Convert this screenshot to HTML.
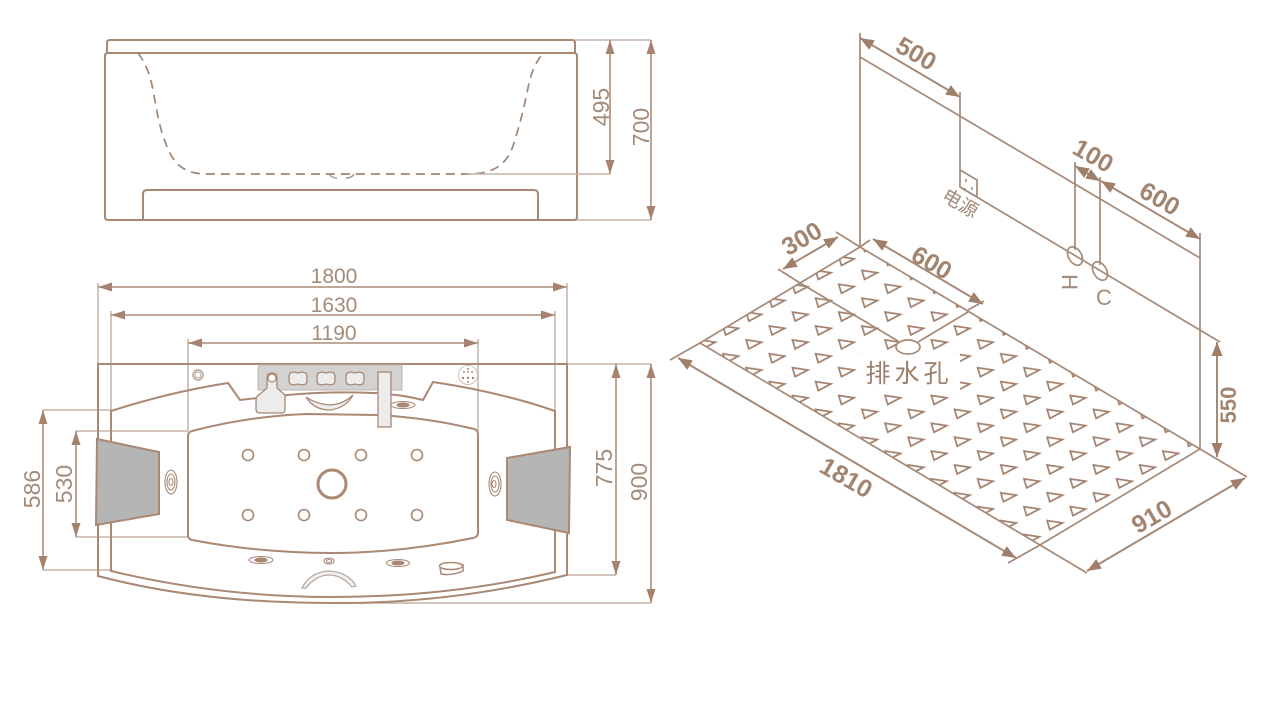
<!DOCTYPE html>
<html>
<head>
<meta charset="utf-8">
<style>
html,body{margin:0;padding:0;background:#fff;width:1280px;height:726px;overflow:hidden}
svg{display:block;filter:blur(0.35px)}
text{font-family:"Liberation Sans","Noto Sans CJK SC",sans-serif;fill:#a28b7a}
.l{fill:none;stroke:#a98874;stroke-width:2}
.d{fill:none;stroke:#c6b3a6;stroke-width:1.5}
.a{fill:none;stroke:#ab8c78;stroke-width:1.6;marker-start:url(#ar);marker-end:url(#ar)}
.i{fill:none;stroke:#a58a78;stroke-width:1.7}
.ia{fill:none;stroke:#a58a78;stroke-width:2;marker-start:url(#ar2);marker-end:url(#ar2)}
.b{font-weight:bold;font-size:25px;fill:#a28570}
.r{font-size:21px}
.v{font-size:23px}
.t{fill:none;stroke:#a07f6b;stroke-width:1.7}
.j{fill:#fff;stroke:#a98874;stroke-width:1.5}
</style>
</head>
<body>
<svg width="1280" height="726" viewBox="0 0 1280 726" xmlns="http://www.w3.org/2000/svg">
<defs>
<marker id="ar" markerUnits="userSpaceOnUse" markerWidth="16" markerHeight="12" refX="14" refY="5" orient="auto-start-reverse">
<path d="M0,0.5 L14,5 L0,9.5 z" fill="#a5836e"/>
</marker>
<marker id="ar2" markerUnits="userSpaceOnUse" markerWidth="16" markerHeight="14" refX="14" refY="6" orient="auto-start-reverse">
<path d="M0,0.5 L14,6 L0,11.5 z" fill="#a07f6a"/>
</marker>
<pattern id="tri" patternUnits="userSpaceOnUse" x="800.15" y="316.1" width="46.3" height="27.8">
<path class="t" d="M15.45,9.9 L30.85,12.2 L18.15,18.9 z"/>
<path class="t" d="M-7.7,-4 L7.7,-1.7 L-5,5 z"/>
<path class="t" d="M38.6,-4 L54,-1.7 L41.3,5 z"/>
<path class="t" d="M-7.7,23.8 L7.7,26.1 L-5,32.8 z"/>
<path class="t" d="M38.6,23.8 L54,26.1 L41.3,32.8 z"/>
</pattern>
</defs>
<rect width="1280" height="726" fill="#fff"/>

<!-- side view -->
<path class="l" d="M107,53 V43 Q107,40 110,40 H572 Q575,40 575,43 V53"/>
<path class="l" d="M108,53 H574 Q577,53 577,56 V217 Q577,220 574,220 H108 Q105,220 105,217 V56 Q105,53 108,53 z"/>
<path class="l" d="M143,220 V194 Q143,190 147,190 H534 Q538,190 538,194 V220"/>
<path fill="none" stroke="#a08674" stroke-width="1.7" stroke-dasharray="9,6" d="M138,53 C146,64 150,74 153,90 C157,112 160,130 166,144 C172,160 180,174 207,174 H467 C490,174 505,168 513,146 C519,128 524,108 528,88 C531,72 536,62 543,53"/>
<path fill="none" stroke="#a8907f" stroke-width="1.4" d="M329,174 Q332,178 337,178 M346,178 Q352,178 354,174"/>
<path class="d" d="M575,40 H651 M467,174 H610 M577,220 H651"/>
<path class="a" d="M610,40 V174"/>
<path class="a" d="M651,40 V220"/>
<text class="v" transform="translate(609,107) rotate(-90)" text-anchor="middle">495</text>
<text class="v" transform="translate(649,127) rotate(-90)" text-anchor="middle">700</text>

<!-- top view dims -->
<path class="d" d="M98,283 V364 M567,283 V364 M111,311 V411 M555,311 V411 M188,339 V431 M478,339 V431"/>
<path class="a" d="M98,287 H567"/>
<path class="a" d="M111,315 H555"/>
<path class="a" d="M188,343 H478"/>
<text class="r" x="334" y="283" text-anchor="middle">1800</text>
<text class="r" x="334" y="312" text-anchor="middle">1630</text>
<text class="r" x="334" y="340" text-anchor="middle">1190</text>
<path class="d" d="M43,410 H111 M43,570 H111 M76,431 H188 M76,537 H188 M567,575 H616 M330,603 H651 M567,364 H651"/>
<path class="a" d="M43,410 V570"/>
<path class="a" d="M76,431 V537"/>
<path class="a" d="M616,364 V575"/>
<path class="a" d="M651,364 V603"/>
<text class="v" transform="translate(40,489) rotate(-90)" text-anchor="middle">586</text>
<text class="v" transform="translate(72,484) rotate(-90)" text-anchor="middle">530</text>
<text class="v" transform="translate(612,468) rotate(-90)" text-anchor="middle">775</text>
<text class="v" transform="translate(647,482) rotate(-90)" text-anchor="middle">900</text>

<!-- top view body -->
<path class="l" d="M98,364 H567 V575 Q450,604 330,603 Q200,603 98,576 z"/>
<path class="l" d="M111,571 Q220,597 332,597 Q450,597 555,572 V411 Q500,392 433,382 L423,400 Q400,394 373,393 Q330,391 287,395 L258,398 L240,400 L228,383 Q170,392 111,411 z"/>
<path class="l" d="M188,436 Q188,432 192,431 Q250,416 307,414 L378,415 Q430,418 474,429 Q478,430 478,435 V533 Q478,537 473,538 Q400,553 332,553 Q260,553 192,540 Q188,539 188,535 z"/>

<!-- pillows -->
<path d="M97,439 L159,452 V514 L96,525 z" fill="#b5b5b5" stroke="#a98874" stroke-width="2"/>
<path d="M507,458 L570,447 L569,533 L507,520 z" fill="#b5b5b5" stroke="#a98874" stroke-width="2"/>

<!-- control panel -->
<path d="M258,368 Q258,365 261,365 H402 V390 H258 z" fill="#d2d2d2" stroke="#c3b5aa" stroke-width="1"/>
<g fill="#ececec" stroke="#a98874" stroke-width="1.3">
<path d="M290,373 L294,372 L298,373 L302,372 L306,373 L307,376 V381 L306,384 L302,385 L298,384 L294,385 L290,384 L289,381 V376 z"/>
<path d="M318,373 L322,372 L326,373 L330,372 L334,373 L335,376 V381 L334,384 L330,385 L326,384 L322,385 L318,384 L317,381 V376 z"/>
<path d="M347,373 L351,372 L355,373 L359,372 L363,373 L364,376 V381 L363,384 L359,385 L355,384 L351,385 L347,384 L346,381 V376 z"/>
<path d="M267,388 V378 Q267,373 272,373 Q277,373 277,378 V388 L285,395 V409 Q285,413 281,413 H260 Q256,413 256,409 V400 Q256,396 260,394 z"/>
<circle cx="272" cy="378" r="4" fill="#fff"/>
<rect x="378" y="372" width="13" height="55"/>
</g>
<path d="M306,397 Q316,404 330,405 Q344,404 353,395 Q346,408 330,410 Q314,410 306,397 z" fill="#eee" stroke="#a98874" stroke-width="1.3"/>
<!-- jets -->
<g class="j" style="fill:#fff;stroke:#a98874;stroke-width:1.6">
<circle cx="248" cy="455" r="5.5"/><circle cx="304" cy="455" r="5.5"/><circle cx="361" cy="455" r="5.5"/><circle cx="417" cy="455" r="5.5"/>
<circle cx="248" cy="515" r="5.5"/><circle cx="304" cy="515" r="5.5"/><circle cx="361" cy="515" r="5.5"/><circle cx="417" cy="515" r="5.5"/>
</g>
<circle cx="332" cy="484" r="14" fill="#fff" stroke="#a98874" stroke-width="3"/>
<circle cx="198" cy="375" r="5" fill="#fff" stroke="#b59f90" stroke-width="1.4"/>
<circle cx="198" cy="375" r="3" fill="#fff" stroke="#b59f90" stroke-width="1"/>
<circle cx="468" cy="375" r="9.5" fill="#fff" stroke="#c6b3a6" stroke-width="0.8"/>
<g fill="#a98874"><circle cx="468" cy="369" r="1"/><circle cx="464" cy="372" r="1"/><circle cx="472" cy="372" r="1"/><circle cx="468" cy="372" r="1"/><circle cx="463" cy="378" r="1.2"/><circle cx="473" cy="378" r="1.2"/><circle cx="468" cy="378" r="1.2"/><circle cx="468" cy="382" r="1"/></g>
<g fill="#fff" stroke="#a98874" stroke-width="1.1">
<ellipse cx="171" cy="482" rx="6" ry="12"/><ellipse cx="171" cy="482" rx="4" ry="8"/><ellipse cx="171" cy="482" rx="2" ry="3.5"/>
<ellipse cx="495" cy="484" rx="6" ry="12"/><ellipse cx="495" cy="484" rx="4" ry="8"/><ellipse cx="494" cy="484" rx="2" ry="3.5"/>
<ellipse cx="261" cy="560" rx="12" ry="3.5"/><ellipse cx="261" cy="560" rx="6" ry="2" fill="#a98874"/>
<ellipse cx="398" cy="563" rx="11.5" ry="3.5"/><ellipse cx="398" cy="563" rx="6" ry="2" fill="#a98874"/>
<ellipse cx="403" cy="405" rx="12" ry="3.5"/><ellipse cx="403" cy="405" rx="6" ry="2" fill="#a98874"/>
<ellipse cx="329" cy="561" rx="5" ry="3"/><ellipse cx="329" cy="561" rx="2.5" ry="1.5"/>
<path d="M440,567 Q451,562 463,565 V571 Q452,576 441,574 z" stroke-width="1.5"/>
<ellipse cx="451" cy="566" rx="11.5" ry="3.5" stroke-width="1.5"/>
</g>
<path d="M302,588 Q310,572 329,571 Q348,572 356,586 L352,587 Q342,575 329,575 Q316,575 306,588 z" fill="#f0f0f0" stroke="#b9a698" stroke-width="1.2"/>

<!-- isometric: floor -->
<polygon points="860,247 1200,449 1040,545 700,343" fill="url(#tri)"/>
<rect x="860" y="353" width="100" height="39" fill="#fff"/>
<path class="i" d="M860,247 L1200,449 L1040,545 L700,343 L800,283 L898,341 M918,342 L968,312 M800,283 L860,247"/>
<ellipse cx="908" cy="347" rx="12" ry="7" fill="#fff" stroke="#a58a78" stroke-width="1.7"/>
<text x="909" y="382" text-anchor="middle" style="font-size:25px;letter-spacing:4px;fill:#9d7f6b">排水孔</text>

<!-- isometric: walls -->
<path class="i" d="M860,33 V247 M860,57 L1200,258 V449 M1200,233 V258 M960,92 V170 M960,170 L977,180 V197 L960,187 z M960,187 L1220,342"/>
<path d="M966,179 v3 M965,188 v3 M972,187 v3" stroke="#a58a78" stroke-width="1.5" fill="none"/>
<path class="i" stroke-width="2" d="M1075,162 V250 M1100,177 V265"/>
<ellipse cx="1075" cy="256" rx="6.5" ry="10" transform="rotate(-30 1075 256)" fill="none" stroke="#a58a78" stroke-width="1.7"/>
<ellipse cx="1100" cy="271" rx="6.5" ry="10" transform="rotate(-30 1100 271)" fill="none" stroke="#a58a78" stroke-width="1.7"/>
<path class="ia" d="M860,38 L960,97"/>
<path class="ia" d="M1075,166 L1100,181"/>
<path class="ia" d="M1101,181 L1200,239"/>
<text class="b" transform="translate(912,61) rotate(30)" text-anchor="middle">500</text>
<text class="b" transform="translate(1089,163) rotate(30)" text-anchor="middle">100</text>
<text class="b" transform="translate(1155.5,206) rotate(30)" text-anchor="middle">600</text>
<text transform="translate(957,209) rotate(30)" text-anchor="middle" style="font-size:19px;fill:#a28b7a">电源</text>
<text transform="translate(1062,282) rotate(90)" text-anchor="middle" style="font-size:22px">H</text>
<text x="1104" y="305" text-anchor="middle" style="font-size:22px">C</text>

<!-- isometric: floor dims -->
<path class="i" d="M778,269 L800,283 M836,232 L860,247 M870,240 L860,247 M968,310 L984,301 M670,360 L700,343 M1008,563 L1040,545 M1040,545 L1087,573 M1200,449 L1247,477"/>
<path class="ia" d="M783,269 L838,237"/>
<path class="ia" d="M873,239 L983,304"/>
<path class="ia" d="M678,358 L1016,558"/>
<path class="ia" d="M1087,571 L1245,478"/>
<path class="ia" d="M1217,342 V457"/>
<text class="b" transform="translate(806,246) rotate(-30)" text-anchor="middle">300</text>
<text class="b" transform="translate(927.5,270) rotate(30)" text-anchor="middle">600</text>
<text class="b" transform="translate(842,485) rotate(30)" text-anchor="middle">1810</text>
<text class="b" transform="translate(1156,524) rotate(-30)" text-anchor="middle">910</text>
<text transform="translate(1236,405) rotate(-90)" text-anchor="middle" style="font-size:22px;font-weight:bold;fill:#a28570">550</text>
</svg>
</body>
</html>
